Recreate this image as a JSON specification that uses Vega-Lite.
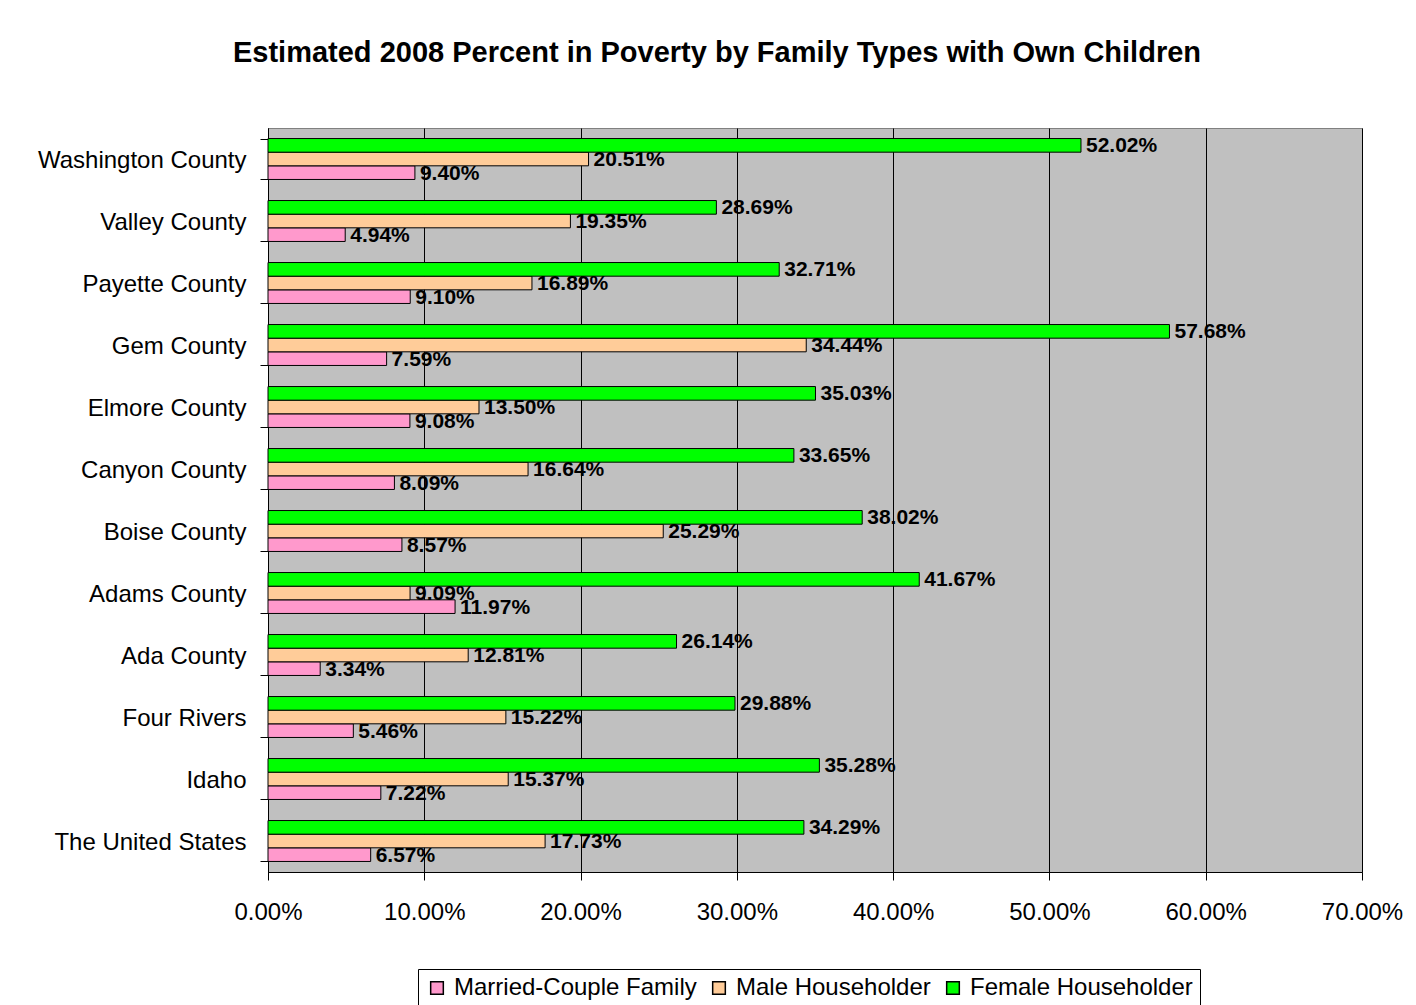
{
  "$schema": "https://vega.github.io/schema/vega-lite/v6.json",
  "autosize": "none",
  "width": 1094,
  "height": 744,
  "padding": {"left": 268, "top": 128, "right": 54, "bottom": 133},
  "background": "white",
  "title": {
    "text": "Estimated 2008 Percent in Poverty by Family Types with Own Children",
    "font": "Liberation Sans",
    "fontSize": 29,
    "fontWeight": "bold",
    "color": "black",
    "anchor": "middle",
    "frame": "group",
    "dx": -98,
    "baseline": "alphabetic",
    "offset": 25
  },
  "data": {
    "values": [
      {"area": "Washington County", "type": "Married-Couple Family", "pct": 0.0940},
      {"area": "Washington County", "type": "Male Householder", "pct": 0.2051},
      {"area": "Washington County", "type": "Female Householder", "pct": 0.5202},
      {"area": "Valley County", "type": "Married-Couple Family", "pct": 0.0494},
      {"area": "Valley County", "type": "Male Householder", "pct": 0.1935},
      {"area": "Valley County", "type": "Female Householder", "pct": 0.2869},
      {"area": "Payette County", "type": "Married-Couple Family", "pct": 0.0910},
      {"area": "Payette County", "type": "Male Householder", "pct": 0.1689},
      {"area": "Payette County", "type": "Female Householder", "pct": 0.3271},
      {"area": "Gem County", "type": "Married-Couple Family", "pct": 0.0759},
      {"area": "Gem County", "type": "Male Householder", "pct": 0.3444},
      {"area": "Gem County", "type": "Female Householder", "pct": 0.5768},
      {"area": "Elmore County", "type": "Married-Couple Family", "pct": 0.0908},
      {"area": "Elmore County", "type": "Male Householder", "pct": 0.1350},
      {"area": "Elmore County", "type": "Female Householder", "pct": 0.3503},
      {"area": "Canyon County", "type": "Married-Couple Family", "pct": 0.0809},
      {"area": "Canyon County", "type": "Male Householder", "pct": 0.1664},
      {"area": "Canyon County", "type": "Female Householder", "pct": 0.3365},
      {"area": "Boise County", "type": "Married-Couple Family", "pct": 0.0857},
      {"area": "Boise County", "type": "Male Householder", "pct": 0.2529},
      {"area": "Boise County", "type": "Female Householder", "pct": 0.3802},
      {"area": "Adams County", "type": "Married-Couple Family", "pct": 0.1197},
      {"area": "Adams County", "type": "Male Householder", "pct": 0.0909},
      {"area": "Adams County", "type": "Female Householder", "pct": 0.4167},
      {"area": "Ada County", "type": "Married-Couple Family", "pct": 0.0334},
      {"area": "Ada County", "type": "Male Householder", "pct": 0.1281},
      {"area": "Ada County", "type": "Female Householder", "pct": 0.2614},
      {"area": "Four Rivers", "type": "Married-Couple Family", "pct": 0.0546},
      {"area": "Four Rivers", "type": "Male Householder", "pct": 0.1522},
      {"area": "Four Rivers", "type": "Female Householder", "pct": 0.2988},
      {"area": "Idaho", "type": "Married-Couple Family", "pct": 0.0722},
      {"area": "Idaho", "type": "Male Householder", "pct": 0.1537},
      {"area": "Idaho", "type": "Female Householder", "pct": 0.3528},
      {"area": "The United States", "type": "Married-Couple Family", "pct": 0.0657},
      {"area": "The United States", "type": "Male Householder", "pct": 0.1773},
      {"area": "The United States", "type": "Female Householder", "pct": 0.3429}
    ]
  },
  "encoding": {
    "y": {
      "field": "area",
      "type": "nominal",
      "sort": null,
      "scale": {"paddingInner": 0.34, "paddingOuter": 0.17},
      "axis": {
        "title": null,
        "labelFont": "Liberation Sans",
        "labelFontSize": 24,
        "labelColor": "black",
        "labelPadding": 14,
        "labelLimit": 0,
        "labelOffset": 1,
        "tickSize": 8,
        "tickColor": "black",
        "tickBand": "extent",
        "domainColor": "black",
        "grid": false
      }
    },
    "yOffset": {
      "field": "type",
      "type": "nominal",
      "sort": ["Female Householder", "Male Householder", "Married-Couple Family"]
    },
    "x": {
      "field": "pct",
      "type": "quantitative",
      "scale": {"domain": [0, 0.7], "nice": false},
      "axis": {
        "title": null,
        "format": ".2%",
        "values": [0, 0.1, 0.2, 0.3, 0.4, 0.5, 0.6, 0.7],
        "labelFont": "Liberation Sans",
        "labelFontSize": 24,
        "labelColor": "black",
        "labelPadding": 20,
        "tickSize": 8,
        "tickColor": "black",
        "domainColor": "black",
        "grid": true,
        "gridColor": "black",
        "gridOpacity": 1,
        "labelFlush": false
      }
    }
  },
  "layer": [
    {
      "mark": {"type": "bar", "stroke": "black", "strokeWidth": 1},
      "encoding": {
        "color": {
          "field": "type",
          "type": "nominal",
          "scale": {
            "domain": ["Married-Couple Family", "Male Householder", "Female Householder"],
            "range": ["#FF99CC", "#FFCC99", "#00FF00"]
          },
          "legend": {
            "orient": "none",
            "legendX": 150,
            "legendY": 841,
            "direction": "horizontal",
            "title": null,
            "strokeColor": "black",
            "fillColor": "white",
            "padding": 7,
            "symbolType": "square",
            "symbolSize": 160,
            "symbolStrokeColor": "black",
            "symbolStrokeWidth": 1.5,
            "symbolOpacity": 1,
            "labelFont": "Liberation Sans",
            "labelFontSize": 24,
            "labelColor": "black",
            "labelLimit": 0,
            "labelOffset": 5,
            "columnPadding": 10
          }
        }
      }
    },
    {
      "mark": {
        "type": "text",
        "align": "left",
        "baseline": "middle",
        "dx": 5,
        "dy": 1,
        "font": "Liberation Sans",
        "fontSize": 21,
        "fontWeight": "bold",
        "color": "black"
      },
      "encoding": {
        "text": {"field": "pct", "type": "quantitative", "format": ".2%"}
      }
    }
  ],
  "config": {
    "view": {"fill": "#C0C0C0", "stroke": "#808080", "strokeWidth": 1}
  }
}
